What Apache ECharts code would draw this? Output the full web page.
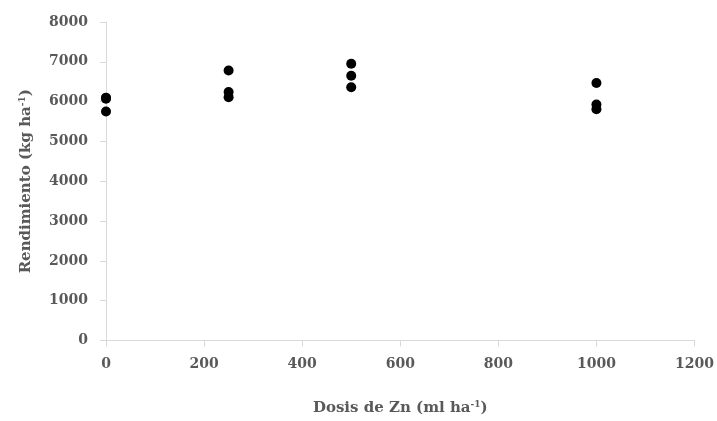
<!DOCTYPE html>
<html>
<head>
<meta charset="utf-8">
<script src="https://cdn.jsdelivr.net/npm/echarts@6/dist/echarts.min.js"></script>
<style>
  html, body { margin: 0; padding: 0; background: #fff; }
  #chart { width: 717px; height: 421px; }
</style>
</head>
<body>
<div id="chart"></div>
<script>
// Zn dose (ml/ha) and yield (kg/ha), three reps per dose
const doses = [0, 0, 0, 250, 250, 250, 500, 500, 500, 1000, 1000, 1000];
const yields = [6100, 6070, 5750, 6780, 6240, 6110, 6950, 6650, 6360, 6470, 5930, 5810];
const xTicks = [0, 200, 400, 600, 800, 1000, 1200];
const yTicks = [0, 1000, 2000, 3000, 4000, 5000, 6000, 7000, 8000];

const textColor = '#595959';
const font = 'DejaVu Serif';

const nameRich = {
  a: { color: textColor, fontFamily: font, fontWeight: 'bold', fontSize: 15 },
  s: { color: textColor, fontFamily: font, fontWeight: 'bold', fontSize: 9, verticalAlign: 'top', padding: [0, 0, 7, 0] }
};

const chart = echarts.init(document.getElementById('chart'));

chart.setOption({
  animation: false,
  grid: { left: 106, right: 22, top: 22, bottom: 77 },
  xAxis: {
    type: 'value',
    min: xTicks[0],
    max: xTicks[xTicks.length - 1],
    interval: 200,
    splitLine: { show: false },
    axisLine: { lineStyle: { color: '#d9d9d9', width: 1 } },
    axisTick: { show: true, length: 6, lineStyle: { color: '#d9d9d9' } },
    axisLabel: {
      color: textColor, fontFamily: font, fontWeight: 'bold', fontSize: 14, margin: 17,
      formatter: v => String(v)
    },
    name: '{a|Dosis de Zn (ml ha}{s|-1}{a|)}',
    nameLocation: 'middle',
    nameGap: 60,
    nameTextStyle: { rich: nameRich }
  },
  yAxis: {
    type: 'value',
    min: yTicks[0],
    max: yTicks[yTicks.length - 1],
    interval: 1000,
    splitLine: { show: false },
    axisLine: { show: true, lineStyle: { color: '#d9d9d9', width: 1 } },
    axisTick: { show: true, length: 6, lineStyle: { color: '#d9d9d9' } },
    axisLabel: {
      color: textColor, fontFamily: font, fontWeight: 'bold', fontSize: 14, margin: 18,
      formatter: v => String(v)
    },
    name: '{a|Rendimiento (kg ha}{s|-1}{a|)}',
    nameLocation: 'middle',
    nameGap: 72,
    nameRotate: 90,
    nameTextStyle: { rich: nameRich }
  },
  series: [{
    type: 'scatter',
    data: doses.map((d, i) => [d, yields[i]]),
    symbol: 'circle',
    symbolSize: 10,
    itemStyle: { color: '#000', opacity: 1 }
  }]
});
</script>
</body>
</html>
